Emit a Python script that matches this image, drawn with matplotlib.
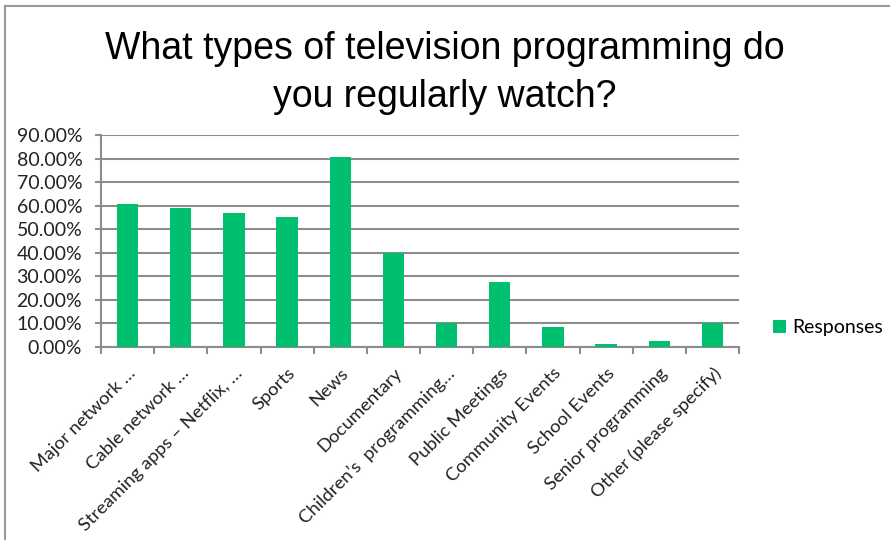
"""Bar chart of survey responses on television programming habits."""

import matplotlib.pyplot as plt
from matplotlib.lines import Line2D
from matplotlib.ticker import FixedLocator, PercentFormatter

categories = [
    "Major network …",
    "Cable network …",
    "Streaming apps – Netflix, …",
    "Sports",
    "News",
    "Documentary",
    "Children’s  programming…",
    "Public Meetings",
    "Community Events",
    "School Events",
    "Senior programming",
    "Other (please specify)",
]
responses = [60.8, 58.9, 57.0, 55.3, 80.5, 40.0, 10.4, 27.5, 8.5, 1.4, 2.4, 10.4]
y_ticks = [0, 10, 20, 30, 40, 50, 60, 70, 80, 90]
title_lines = ["What types of television programming do", "you regularly watch?"]

BAR_COLOR = "#00bf6f"
GRID_COLOR = "#8c8c8c"
LABEL_FONT = ["Lato", "DejaVu Sans"]
W, H = 890, 540

fig = plt.figure(figsize=(W / 100, H / 100), dpi=100)
ax = fig.add_axes([101 / W, 1 - 347 / H, 638 / W, 212 / H])

x = list(range(len(categories)))
ax.bar(x, responses, width=0.4, color=BAR_COLOR, label="Responses", zorder=3)

ax.set_xlim(-0.5, len(categories) - 0.5)
ax.set_ylim(0, 90)
ax.set_yticks(y_ticks)
ax.yaxis.set_major_formatter(PercentFormatter(decimals=2))
ax.grid(axis="y", color=GRID_COLOR, linewidth=1.5, zorder=0)

# category labels sit at bar centres, tick marks at the boundaries
ax.set_xticks(x)
ax.set_xticklabels(categories, rotation=45, ha="right", rotation_mode="anchor")
ax.xaxis.set_minor_locator(FixedLocator([i - 0.5 for i in range(len(categories) + 1)]))
ax.tick_params(axis="x", which="major", length=0, pad=13)
ax.tick_params(axis="x", which="minor", length=5, width=1.5, color=GRID_COLOR, direction="out")
ax.tick_params(axis="y", length=4.5, width=1.5, color=GRID_COLOR, pad=9)

for label in ax.get_xticklabels():
    label.set_fontfamily(LABEL_FONT)
    label.set_fontsize(13.3)
    label.set_color("#222222")
for label in ax.get_yticklabels():
    label.set_fontfamily(LABEL_FONT)
    label.set_fontsize(14)
    label.set_color("#222222")

for side in ("top", "right"):
    ax.spines[side].set_visible(False)
for side in ("left", "bottom"):
    ax.spines[side].set_color(GRID_COLOR)
    ax.spines[side].set_linewidth(1.5)

for line, baseline in zip(title_lines, (59, 107)):
    fig.text(0.5, 1 - baseline / H, line, ha="center", va="baseline",
             fontsize=27, family="Liberation Sans")

ax.legend(loc="center left", bbox_to_anchor=(1.053, 0.09), frameon=False,
          borderaxespad=0, borderpad=0,
          handlelength=0.7, handleheight=0.7, handletextpad=0.3,
          prop={"family": LABEL_FONT, "size": 14})

# outer chart frame (top and left edges)
fig.add_artist(Line2D([5 / W, 1], [1 - 6 / H, 1 - 6 / H],
                      transform=fig.transFigure, color="#9a9a9a", linewidth=1.5))
fig.add_artist(Line2D([5 / W, 5 / W], [0, 1 - 6 / H],
                      transform=fig.transFigure, color="#9a9a9a", linewidth=1.5))

fig.savefig("out.png", dpi=100)
plt.close(fig)
